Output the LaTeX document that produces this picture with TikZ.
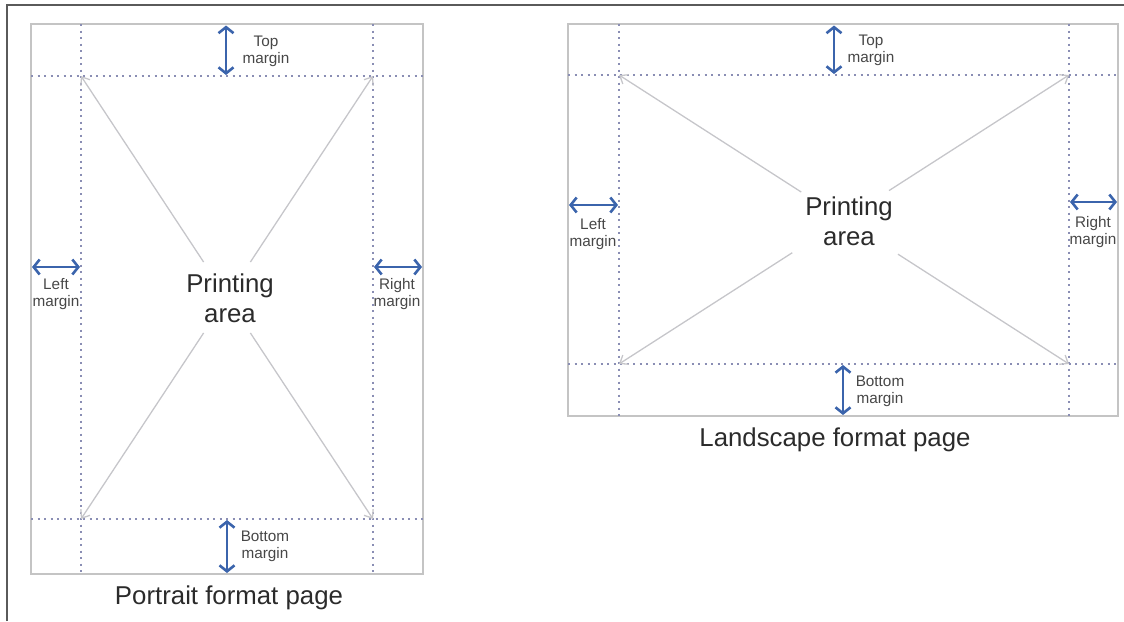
\documentclass[tikz,border=0pt]{standalone}
\usepackage{fontspec}
\setmainfont{Liberation Sans}
\usetikzlibrary{arrows.meta,calc}

\definecolor{frameline}{HTML}{5A5A5A}
\definecolor{pageline}{HTML}{C4C4C4}
\definecolor{guide}{HTML}{8A8EB4}
\definecolor{margarrow}{HTML}{3B64AC}
\definecolor{diag}{HTML}{C6C6CA}
\definecolor{txt}{HTML}{2B2B2B}
\definecolor{smalltxt}{HTML}{474747}

\tikzset{
  frame/.style={draw=frameline, line width=1.8pt},
  page/.style={draw=pageline, line width=1.5pt},
  guideline/.style={draw=guide, line width=1.5pt, dash pattern=on 2.4pt off 4.1pt},
  marginarrow/.style={draw=margarrow, line width=1.6pt,
    {Straight Barb[length=6pt,width=15pt,line width=2.6pt]}-{Straight Barb[length=6pt,width=15pt,line width=2.6pt]}},
  diagarrow/.style={draw=diag, line width=1.3pt, -{Straight Barb[length=7pt,width=11pt,line width=1.3pt]}},
  bigtext/.style={font=\fontsize{25.8}{30}\selectfont, text=txt, inner sep=0pt, align=center, anchor=base},
  smalltext/.style={font=\fontsize{15.3}{16.5}\selectfont, text=smalltxt, inner sep=0pt, align=center, anchor=base},
}

\begin{document}
\begin{tikzpicture}[x=1pt,y=-1pt]
\useasboundingbox (0,0) rectangle (1124,621);

% outer frame (left and top edges)
\coordinate (F-top-left) at (7,5);
\coordinate (F-top-right) at (1124,5);
\coordinate (F-bottom-left) at (7,621);
\draw[frame] (F-bottom-left) -- (F-top-left) -- (F-top-right);

% ---------------- portrait page ----------------
\coordinate (P-nw) at (31,24);
\coordinate (P-se) at (423,574);
\draw[page] (P-nw) rectangle (P-se);

% margin guides
\draw[guideline] (81,24) -- (81,574);
\draw[guideline] (373,24) -- (373,574);
\draw[guideline] (31,76) -- (423,76);
\draw[guideline] (31,519) -- (423,519);

\coordinate (P-tl) at (81,76);
\coordinate (P-tr) at (373,76);
\coordinate (P-bl) at (81,519);
\coordinate (P-br) at (373,519);
\coordinate (P-c) at (227,297.5);

% multi-line labels are placed at the baseline of their last line
\node[bigtext] (P-label) at (230,322) {Printing\\area};

\draw[diagarrow] ($(P-c)!0.16!(P-tl)$) -- (P-tl);
\draw[diagarrow] ($(P-c)!0.16!(P-tr)$) -- (P-tr);
\draw[diagarrow] ($(P-c)!0.16!(P-bl)$) -- (P-bl);
\draw[diagarrow] ($(P-c)!0.16!(P-br)$) -- (P-br);

% margin arrows
\coordinate (P-top-a) at (226,25.5);
\coordinate (P-top-b) at (226,75);
\coordinate (P-bot-a) at (227,520);
\coordinate (P-bot-b) at (227,573);
\coordinate (P-left-a) at (32,267);
\coordinate (P-left-b) at (80,267);
\coordinate (P-right-a) at (374,267);
\coordinate (P-right-b) at (422,267);
\draw[marginarrow] (P-top-a) -- (P-top-b);
\draw[marginarrow] (P-bot-a) -- (P-bot-b);
\draw[marginarrow] (P-left-a) -- (P-left-b);
\draw[marginarrow] (P-right-a) -- (P-right-b);

\node[smalltext] (P-top-label) at (266,63) {Top\\margin};
\node[smalltext] (P-bot-label) at (265,558) {Bottom\\margin};
\node[smalltext] (P-left-label) at (56,306) {Left\\margin};
\node[smalltext] (P-right-label) at (397,306) {Right\\margin};

\node[bigtext] (P-caption) at (229,604) {Portrait format page};

% ---------------- landscape page ----------------
\coordinate (L-nw) at (568,24);
\coordinate (L-se) at (1118,416);
\draw[page] (L-nw) rectangle (L-se);

\draw[guideline] (619,24) -- (619,416);
\draw[guideline] (1069,24) -- (1069,416);
\draw[guideline] (568,75) -- (1118,75);
\draw[guideline] (568,364) -- (1118,364);

\coordinate (L-tl) at (619,75);
\coordinate (L-tr) at (1069,75);
\coordinate (L-bl) at (619,364);
\coordinate (L-br) at (1069,364);
\coordinate (L-c) at (844,219.5);

\node[bigtext] (L-label) at (849,245) {Printing\\area};

\draw[diagarrow] ($(L-c)!0.19!(L-tl)$) -- (L-tl);
\draw[diagarrow] ($(L-c)!0.20!(L-tr)$) -- (L-tr);
\draw[diagarrow] ($(L-c)!0.23!(L-bl)$) -- (L-bl);
\draw[diagarrow] ($(L-c)!0.24!(L-br)$) -- (L-br);

\coordinate (L-top-a) at (834,25.5);
\coordinate (L-top-b) at (834,74);
\coordinate (L-bot-a) at (843,365);
\coordinate (L-bot-b) at (843,415);
\coordinate (L-left-a) at (569,205);
\coordinate (L-left-b) at (618,205);
\coordinate (L-right-a) at (1070,202);
\coordinate (L-right-b) at (1117,202);
\draw[marginarrow] (L-top-a) -- (L-top-b);
\draw[marginarrow] (L-bot-a) -- (L-bot-b);
\draw[marginarrow] (L-left-a) -- (L-left-b);
\draw[marginarrow] (L-right-a) -- (L-right-b);

\node[smalltext] (L-top-label) at (871,62) {Top\\margin};
\node[smalltext] (L-bot-label) at (880,403) {Bottom\\margin};
\node[smalltext] (L-left-label) at (593,246) {Left\\margin};
\node[smalltext] (L-right-label) at (1093,244) {Right\\margin};

\node[bigtext] (L-caption) at (835,446) {Landscape format page};
\end{tikzpicture}
\end{document}
